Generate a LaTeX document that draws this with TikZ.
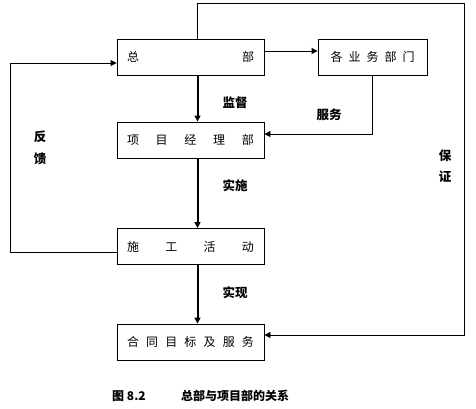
\documentclass[tikz,border=0pt]{standalone}
\usepackage{fontspec}
\newfontfamily\cjk{Noto Sans CJK SC}
\usetikzlibrary{arrows.meta}
\tikzset{
  box/.style={draw, line width=0.9pt, minimum width=147pt, minimum height=36pt, inner sep=0pt, font=\cjk\fontsize{12pt}{14pt}\selectfont},
  arr/.style={line width=0.9pt, -{Triangle[length=6pt,width=6pt]}},
  thickarr/.style={line width=2pt, -{Triangle[length=6pt,width=6pt]}},
  lbl/.style={inner sep=0pt, font=\cjk\bfseries\fontsize{12.5pt}{14pt}\selectfont},
  captxt/.style={inner sep=0pt, font=\cjk\bfseries\fontsize{12pt}{14pt}\selectfont}
}
\begin{document}
\begin{tikzpicture}[x=1pt,y=-1pt]
\useasboundingbox (0,0) rectangle (476,409);
\node[box] (hq) at (190.5,57) {\makebox[127pt][s]{总\hfil 部}};
\node[box, minimum width=109pt] (dept) at (372.5,57) {\makebox[84pt][s]{各\hfil 业\hfil 务\hfil 部\hfil 门}};
\node[box] (pm) at (190.5,140) {\makebox[127pt][s]{项\hfil 目\hfil 经\hfil 理\hfil 部}};
\node[box] (act) at (190.5,246.5) {\makebox[127pt][s]{施\hfil 工\hfil 活\hfil 动}};
\node[box] (goal) at (190.5,342) {\makebox[127pt][s]{合\hfil 同\hfil 目\hfil 标\hfil 及\hfil 服\hfil 务}};

\draw[arr] ([yshift=6pt]hq.east) -- ([yshift=6pt]dept.west);
\draw[thickarr] ([xshift=7pt]hq.south) -- ([xshift=7pt]pm.north);
\draw[arr] (dept.south) |- ([yshift=6pt]pm.east);
\draw[thickarr] ([xshift=7pt]pm.south) -- ([xshift=7pt]act.north);
\draw[thickarr] ([xshift=7pt]act.south) -- ([xshift=7pt]goal.north);
\draw[arr] ([yshift=-5.5pt]act.west) -- ++(-106.5,0) |- ([yshift=-6pt]hq.west);
\draw[arr] ([xshift=7pt]hq.north) -- ++(0,-35) -- ++(267,0) |- ([yshift=7pt]goal.east);

\node[lbl] (l1) at (235,103) {监督};
\node[lbl] (l2) at (329,115) {服务};
\node[lbl] (l3) at (40,137) {反};
\node[lbl] (l4) at (40,159) {馈};
\node[lbl] (l5) at (445,156) {保};
\node[lbl] (l6) at (445,177) {证};
\node[lbl] (l7) at (235,186) {实施};
\node[lbl] (l8) at (235,293) {实现};
\node[captxt] (c1) at (129,396) {图 8.2};
\node[captxt] (c2) at (235,396) {总部与项目部的关系};
\end{tikzpicture}
\end{document}
